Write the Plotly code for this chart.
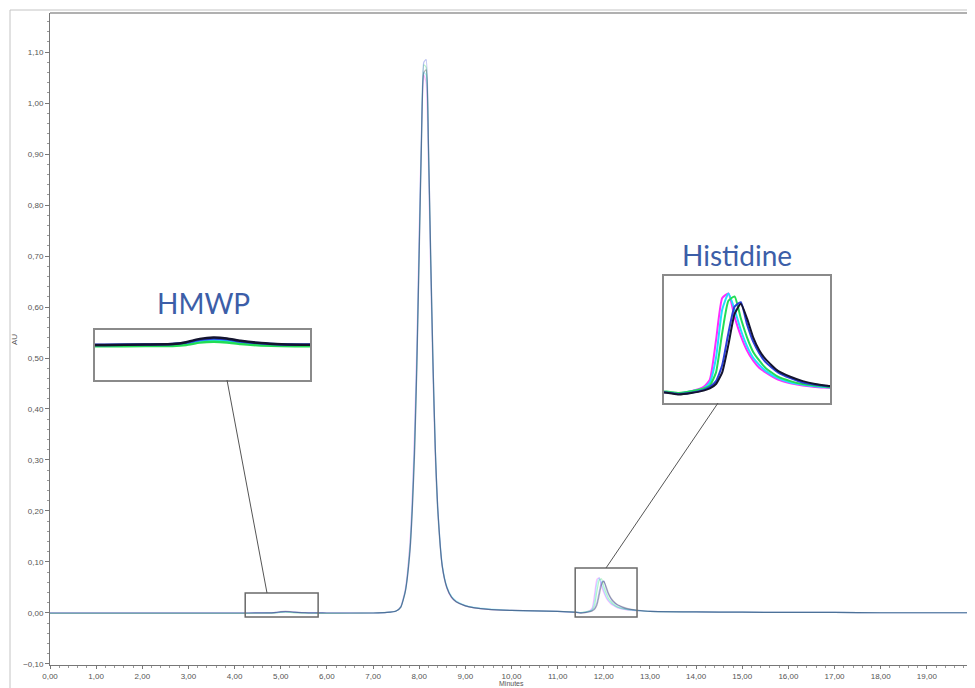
import plotly.graph_objects as go

# ---------------- data ----------------
minutes = [0, 1, 2, 3,
           4.0, 4.3, 4.6, 4.8, 4.9, 5.0, 5.1, 5.2, 5.3, 5.45, 5.6, 5.8, 6.0, 6.5,
           7.0, 7.3, 7.5, 7.6, 7.7, 7.8, 7.85, 7.9, 7.95, 8.0, 8.05, 8.1, 8.15, 8.2,
           8.25, 8.3, 8.35, 8.4, 8.5, 8.6, 8.7, 8.8, 9.0, 9.2, 9.5, 10.0, 10.5,
           11.0, 11.4, 11.5, 11.6, 11.7, 11.75, 11.8, 11.85, 11.9, 11.95, 12.0, 12.05,
           12.1, 12.15, 12.2, 12.3, 12.4, 12.5, 12.6, 12.7, 13.0,
           14, 15, 16, 17, 18, 19, 20]

au_magenta = [0, 0, 0, 0,
              0, 0, 0.0001, 0.0003, 0.0008, 0.0018, 0.0022, 0.0019, 0.0012, 0.0005, 0.0002, 0.0001, 0, 0,
              0, 0.001, 0.004, 0.013, 0.048, 0.14, 0.23, 0.36, 0.53, 0.75, 0.95, 1.055, 1.04, 0.88,
              0.66, 0.46, 0.30, 0.20, 0.090, 0.048, 0.030, 0.022, 0.014, 0.010, 0.007, 0.005, 0.004,
              0.003, 0.0015, 0.0006, 0.002, 0.005, 0.010, 0.037, 0.066, 0.069, 0.053, 0.040, 0.030,
              0.023, 0.018, 0.015, 0.010, 0.0075, 0.006, 0.005, 0.0045, 0.003,
              0.002, 0.0015, 0.001, 0.001, 0.0005, 0.0005, 0.0005]

au_cyan = [0, 0, 0, 0,
           0, 0, 0.0001, 0.0003, 0.0008, 0.0016, 0.0020, 0.0017, 0.0011, 0.0005, 0.0002, 0.0001, 0, 0,
           0, 0.001, 0.004, 0.012, 0.045, 0.13, 0.22, 0.34, 0.51, 0.73, 0.94, 1.06, 1.055, 0.90,
           0.68, 0.48, 0.32, 0.21, 0.095, 0.052, 0.033, 0.024, 0.015, 0.011, 0.008, 0.005, 0.004,
           0.003, 0.0015, 0.0006, 0.002, 0.004, 0.008, 0.025, 0.058, 0.069, 0.058, 0.044, 0.033,
           0.025, 0.020, 0.016, 0.011, 0.008, 0.0065, 0.0055, 0.0048, 0.003,
           0.002, 0.0015, 0.001, 0.001, 0.0005, 0.0005, 0.0005]

au_green = [-0.0006, -0.0006, -0.0006, -0.0006,
            -0.0006, -0.0006, -0.0005, -0.0004, 0.0, 0.0010, 0.0014, 0.0011, 0.0004, -0.0002, -0.0005, -0.0006, -0.0006, -0.0005,
            0, 0.001, 0.004, 0.012, 0.044, 0.13, 0.21, 0.33, 0.50, 0.72, 0.94, 1.075, 1.07, 0.91,
            0.68, 0.47, 0.31, 0.20, 0.090, 0.049, 0.031, 0.022, 0.014, 0.010, 0.007, 0.005, 0.004,
            0.003, 0.0018, 0.0008, 0.002, 0.004, 0.006, 0.015, 0.042, 0.064, 0.067, 0.052, 0.039,
            0.029, 0.023, 0.018, 0.012, 0.009, 0.007, 0.006, 0.005, 0.003,
            0.002, 0.0015, 0.001, 0.001, 0.0005, 0.0005, 0.0005]

au_blue = [0, 0, 0, 0,
           0, 0, 0.0002, 0.0004, 0.0010, 0.0022, 0.0028, 0.0024, 0.0015, 0.0007, 0.0002, 0.0001, 0, 0,
           0, 0.001, 0.004, 0.011, 0.042, 0.12, 0.20, 0.32, 0.49, 0.71, 0.93, 1.08, 1.085, 0.93,
           0.70, 0.49, 0.32, 0.21, 0.092, 0.050, 0.031, 0.022, 0.014, 0.010, 0.007, 0.005, 0.004,
           0.003, 0.0012, 0.0002, 0.001, 0.003, 0.005, 0.009, 0.020, 0.042, 0.060, 0.063, 0.048,
           0.036, 0.028, 0.022, 0.015, 0.011, 0.008, 0.0065, 0.0055, 0.003,
           0.002, 0.0015, 0.001, 0.001, 0.0005, 0.0005, 0.0005]

au_black = [0, 0, 0, 0,
            0, 0, 0.0002, 0.0004, 0.0012, 0.0026, 0.0032, 0.0028, 0.0018, 0.0008, 0.0003, 0.0001, 0, 0,
            0, 0.001, 0.004, 0.011, 0.042, 0.12, 0.20, 0.31, 0.48, 0.70, 0.92, 1.06, 1.065, 0.92,
            0.70, 0.49, 0.32, 0.21, 0.092, 0.050, 0.031, 0.022, 0.014, 0.010, 0.007, 0.005, 0.004,
            0.003, 0.0010, -0.0002, 0.0008, 0.0025, 0.004, 0.007, 0.015, 0.034, 0.055, 0.062, 0.052,
            0.039, 0.030, 0.024, 0.016, 0.012, 0.009, 0.007, 0.0058, 0.003,
            0.002, 0.0015, 0.001, 0.001, 0.0005, 0.0005, 0.0005]

series_names = ["Injection 1", "Injection 2", "Injection 3", "Injection 4", "Injection 5"]
series_values = [au_magenta, au_cyan, au_green, au_blue, au_black]
series_colors = ["#ff2bff", "#22ddff", "#22dd55", "#2a3fd8", "#14142e"]

x_tick_values = [0, 1, 2, 3, 4, 5, 6, 7, 8, 9, 10, 11, 12, 13, 14, 15, 16, 17, 18, 19, 20]
y_tick_values = [-0.1, 0, 0.1, 0.2, 0.3, 0.4, 0.5, 0.6, 0.7, 0.8, 0.9, 1.0, 1.1]

hmwp_window = [4.23, 5.81, -0.008, 0.039]       # zoom box in main axes (x0, x1, y0, y1)
histidine_window = [11.38, 12.72, -0.008, 0.088]

# ---------------- layout geometry ----------------
OFF = 8                      # page body margin offset
W, H = 975 - OFF, 688 - OFF
ML, MR, MT, MB = 50 - OFF, 2, 13 - OFF, 23
PW, PH = W - ML - MR, H - MT - MB


def px(xp):
    """reference-picture pixel x -> paper fraction"""
    return (xp - OFF - ML) / PW


def py(yp):
    """reference-picture pixel y -> paper fraction"""
    return (H - MB - (yp - OFF)) / PH


fig = go.Figure()

for name, vals, col in zip(series_names, series_values, series_colors):
    fig.add_trace(go.Scatter(x=minutes, y=vals, name=name, mode="lines",
                             line=dict(color=col, width=1.2, shape="spline", smoothing=0.5),
                             opacity=0.32, xaxis="x", yaxis="y", showlegend=False))
for name, vals, col in zip(series_names, series_values, series_colors):
    fig.add_trace(go.Scatter(x=minutes, y=vals, name=name, mode="lines",
                             line=dict(color=col, width=2.5, shape="spline", smoothing=0.5),
                             xaxis="x2", yaxis="y2", showlegend=False))
for name, vals, col in zip(series_names, series_values, series_colors):
    fig.add_trace(go.Scatter(x=minutes, y=vals, name=name, mode="lines",
                             line=dict(color=col, width=2, shape="spline", smoothing=0.5),
                             xaxis="x3", yaxis="y3", showlegend=False))

tickfont = dict(family="Liberation Sans, Arial, sans-serif", size=8, color="#555")

inset_axis = dict(showline=True, mirror=True, linecolor="#8a8a8a", linewidth=1.5,
                  showticklabels=False, ticks="", showgrid=False, zeroline=False,
                  automargin=False)

fig.update_layout(
    width=W, height=H, template="none",
    margin=dict(l=ML, r=MR, t=MT, b=MB),
    paper_bgcolor="white", plot_bgcolor="white",
    separators=",.",
    showlegend=False,
    xaxis=dict(range=[0, 20], tickvals=x_tick_values, tickformat=".2f",
               showline=True, linecolor="#777", linewidth=1, ticks="outside",
               ticklen=3, tickcolor="#777", tickfont=tickfont,
               minor=dict(dtick=0.2, ticks="outside", ticklen=2, tickcolor="#999"),
               showgrid=False, zeroline=False, automargin=False),
    yaxis=dict(range=[-0.102, 1.1765], tickvals=y_tick_values, tickformat=".2f",
               showline=True, linecolor="#777", linewidth=1, ticks="outside",
               ticklen=4, tickcolor="#777", tickfont=tickfont,
               minor=dict(dtick=0.02, tick0=0, ticks="outside", ticklen=2, tickcolor="#999"),
               showgrid=False, zeroline=False, automargin=False),
    xaxis2=dict(inset_axis, domain=[px(95), px(310)], anchor="y2",
                range=hmwp_window[:2]),
    yaxis2=dict(inset_axis, domain=[py(380), py(330)], anchor="x2",
                range=[-0.015, 0.0064]),
    xaxis3=dict(inset_axis, domain=[px(664), px(830)], anchor="y3",
                range=histidine_window[:2]),
    yaxis3=dict(inset_axis, domain=[py(403), py(276)], anchor="x3",
                range=[-0.006, 0.081]),
)

shapes = []
# outer page frame
shapes.append(dict(type="line", xref="paper", yref="paper", x0=px(10), x1=px(10),
                   y0=py(690), y1=py(10), line=dict(color="#c4c4c4", width=1)))
shapes.append(dict(type="line", xref="paper", yref="paper", x0=px(10), x1=px(976),
                   y0=py(10), y1=py(10), line=dict(color="#c4c4c4", width=1)))
# plot frame top / right
shapes.append(dict(type="line", xref="paper", yref="paper", x0=0, x1=1,
                   y0=1, y1=1, line=dict(color="#b0b0b0", width=2)))
shapes.append(dict(type="line", xref="paper", yref="paper", x0=1, x1=1,
                   y0=0, y1=1, line=dict(color="#a0a0a0", width=1.5)))
# zoom windows in main axes
for win in (hmwp_window, histidine_window):
    shapes.append(dict(type="rect", xref="x", yref="y", x0=win[0], x1=win[1],
                       y0=win[2], y1=win[3], line=dict(color="#6a6a6a", width=1.5),
                       fillcolor="rgba(0,0,0,0)"))
# connector lines
shapes.append(dict(type="line", xref="paper", yref="paper", x0=px(227), y0=py(380),
                   x1=px(267), y1=py(593), line=dict(color="#555", width=1)))
shapes.append(dict(type="line", xref="paper", yref="paper", x0=px(718), y0=py(403),
                   x1=px(606), y1=py(568), line=dict(color="#555", width=1)))
fig.update_layout(shapes=shapes)

label_font = dict(family="Lato, Open Sans, sans-serif", size=28, color="#3c5ea8")
fig.add_annotation(text="HMWP", xref="paper", yref="paper", x=px(203), y=py(303),
                   showarrow=False, font=label_font, xanchor="center", yanchor="middle")
fig.add_annotation(text="Histidine", xref="paper", yref="paper", x=px(737), y=py(255),
                   showarrow=False, font=label_font, xanchor="center", yanchor="middle")
fig.add_annotation(text="AU", xref="paper", yref="paper", x=px(14), y=py(340),
                   showarrow=False, textangle=-90, font=tickfont,
                   xanchor="center", yanchor="middle")
fig.add_annotation(text="Minutes", xref="paper", yref="paper", x=px(512), y=py(688),
                   showarrow=False, borderpad=0,
                   font=dict(family="Liberation Sans, Arial, sans-serif", size=7, color="#555"),
                   xanchor="center", yanchor="bottom")

fig.write_html("out.html")
